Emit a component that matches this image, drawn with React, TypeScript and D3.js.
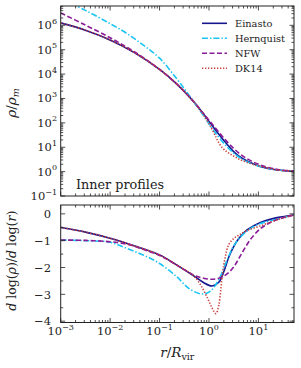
import React from "react";
import * as d3 from "d3";

// radius in units of R_vir, density in units of the mean density, and the
// logarithmic slope for each profile
const einastoR = [0.001, 0.00316, 0.01, 0.0316, 0.1, 0.224, 0.49, 0.776, 1.15, 1.58, 2.0, 2.51, 3.16, 3.98, 5.89, 11.0, 24.0, 52.5];
const einastoRho = [1.26e6, 6.3e5, 2.5e5, 7.4e4, 1.55e4, 3890, 741, 229, 79, 34, 19, 11, 6.6, 4.4, 2.75, 1.62, 1.17, 1.05];
const einastoSlope = [-0.51, -0.68, -0.91, -1.2, -1.53, -1.91, -2.31, -2.56, -2.69, -2.55, -2.15, -1.62, -1.22, -0.93, -0.6, -0.32, -0.14, -0.04];

const hernquistR = [0.001, 0.00316, 0.01, 0.0219, 0.0479, 0.1, 0.224, 0.398, 0.724, 1.07, 1.58, 2.29, 3.16, 4.68, 6.92, 11.0, 24.0, 52.5];
const hernquistRho = [1.26e7, 4.1e6, 1.17e6, 4.6e5, 1.5e5, 4.5e4, 6300, 1320, 240, 74, 25.7, 10.7, 5.75, 3.24, 2.19, 1.58, 1.17, 1.05];
const hernquistSlope = [-0.975, -1.0, -1.06, -1.29, -1.54, -1.85, -2.35, -2.79, -2.99, -2.88, -2.45, -1.75, -1.2, -0.8, -0.55, -0.36, -0.2, -0.04];

const nfwR = [0.001, 0.00316, 0.01, 0.0219, 0.0479, 0.1, 0.224, 0.49, 0.776, 1.15, 1.58, 2.29, 3.16, 4.68, 6.92, 11.0, 17.4, 28.2, 52.5];
const nfwRho = [3.24e6, 1.02e6, 3.1e5, 1.26e5, 4.6e4, 1.55e4, 3890, 741, 240, 91, 41.7, 17.4, 8.9, 4.57, 2.82, 1.86, 1.41, 1.17, 1.05];
const nfwSlope = [-0.975, -0.99, -1.04, -1.13, -1.33, -1.55, -1.91, -2.28, -2.4, -2.44, -2.4, -2.25, -1.98, -1.45, -0.95, -0.55, -0.32, -0.17, -0.04];

const dk14R = [0.001, 0.00316, 0.01, 0.0316, 0.1, 0.224, 0.49, 0.661, 0.912, 1.15, 1.38, 1.58, 1.86, 2.14, 2.51, 3.16, 3.98, 5.89, 11.0, 24.0, 52.5];
const dk14Rho = [1.26e6, 6.3e5, 2.5e5, 7.4e4, 1.55e4, 3890, 741, 339, 126, 55, 26.3, 15.1, 9.55, 7.24, 5.75, 4.37, 3.31, 2.4, 1.66, 1.17, 1.05];
const dk14Slope = [-0.51, -0.68, -0.91, -1.2, -1.53, -1.91, -2.31, -2.62, -3.1, -3.5, -3.72, -3.4, -2.3, -1.6, -1.15, -0.92, -0.8, -0.62, -0.45, -0.22, -0.04];

const series = [
  { name: "Einasto", r: einastoR, rho: einastoRho, slope: einastoSlope, color: "#16168f", dash: "" },
  { name: "Hernquist", r: hernquistR, rho: hernquistRho, slope: hernquistSlope, color: "#1cc4f4", dash: "6,2,1.4,2" },
  { name: "NFW", r: nfwR, rho: nfwRho, slope: nfwSlope, color: "#8a1a96", dash: "5,2.5" },
  { name: "DK14", r: dk14R, rho: dk14Rho, slope: dk14Slope, color: "#c8403c", dash: "1.3,1.7" },
];

const xDecades = [-3, -2, -1, 0, 1];
const rhoDecades = [-1, 0, 1, 2, 3, 4, 5, 6];
const slopeTicks = [0, -1, -2, -3, -4];

const W = 301;
const H = 368;
const left = 60.7;
const right = 294;
const top1 = 6;
const bot1 = 196;
const top2 = 205;
const bot2 = 322.5;
const serif = "DejaVu Serif";
const ink = "#222";

const x = d3.scaleLog().domain([1e-3, 52.5]).range([left, right]);
const yRho = d3.scaleLog().domain([0.1, 6.2e6]).range([bot1, top1]);
const ySlope = d3.scaleLinear().domain([-4.05, 0.33]).range([bot2, top2]);

// minor ticks 2..9 within each decade of a log domain
const logMinors = (lo: number, hi: number) => {
  const out: number[] = [];
  for (let d = Math.floor(Math.log10(lo)); d <= Math.ceil(Math.log10(hi)); d++) {
    for (let k = 2; k <= 9; k++) {
      const v = k * Math.pow(10, d);
      if (v > lo && v < hi) out.push(v);
    }
  }
  return out;
};

const sup = (d: number) => (d < 0 ? "\u2212" + Math.abs(d) : String(d));

const Label = (props: React.SVGProps<SVGTextElement>) => (
  <text fontFamily={serif} fill={ink} {...props} />
);

const Frame = ({ y0, y1, yMajor, yMinor }: { y0: number; y1: number; yMajor: number[]; yMinor: number[] }) => {
  const xMajor = xDecades.map((d) => x(Math.pow(10, d)));
  const xMinor = logMinors(1e-3, 52.5).map((v) => x(v));
  const lines: JSX.Element[] = [];
  const push = (x1: number, y1a: number, x2: number, y2: number, k: string) =>
    lines.push(<line key={k} x1={x1} y1={y1a} x2={x2} y2={y2} />);
  xMajor.forEach((px, i) => {
    push(px, y1, px, y1 - 4.5, "xb" + i);
    push(px, y0, px, y0 + 4.5, "xt" + i);
  });
  xMinor.forEach((px, i) => {
    push(px, y1, px, y1 - 2.5, "xbm" + i);
    push(px, y0, px, y0 + 2.5, "xtm" + i);
  });
  yMajor.forEach((py, i) => {
    push(left, py, left + 4.5, py, "yl" + i);
    push(right, py, right - 4.5, py, "yr" + i);
  });
  yMinor.forEach((py, i) => {
    push(left, py, left + 2.5, py, "ylm" + i);
    push(right, py, right - 2.5, py, "yrm" + i);
  });
  return (
    <g>
      <g stroke={ink} strokeWidth={0.8}>{lines}</g>
      <rect x={left} y={y0} width={right - left} height={y1 - y0} fill="none" stroke={ink} strokeWidth={1} />
    </g>
  );
};

export default function App() {
  const rhoLine = (s: (typeof series)[number]) =>
    d3
      .line<number>()
      .x((_, i) => x(s.r[i]))
      .y((v) => yRho(v))
      .curve(d3.curveCatmullRom.alpha(0.5))(s.rho) || "";
  const slopeLine = (s: (typeof series)[number]) =>
    d3
      .line<number>()
      .x((_, i) => x(s.r[i]))
      .y((v) => ySlope(v))
      .curve(d3.curveCatmullRom.alpha(0.5))(s.slope) || "";

  const rhoMinor = logMinors(0.1, 6.2e6).map((v) => yRho(v));
  const slopeMinor = d3.range(-3.5, 0.5, 1).map((v) => ySlope(v));

  return (
    <svg
      width={W}
      height={H}
      viewBox={`0 0 ${W} ${H}`}
      style={{ position: "absolute", left: 0, top: 0, background: "#fff" }}
    >
      <defs>
        <clipPath id="c1">
          <rect x={left} y={top1} width={right - left} height={bot1 - top1} />
        </clipPath>
        <clipPath id="c2">
          <rect x={left} y={top2} width={right - left} height={bot2 - top2} />
        </clipPath>
      </defs>

      {/* upper panel: density */}
      <g clipPath="url(#c1)" fill="none" strokeWidth={1.6}>
        {series.map((s) => (
          <path key={s.name} d={rhoLine(s)} stroke={s.color} strokeDasharray={s.dash} />
        ))}
      </g>
      <Frame y0={top1} y1={bot1} yMajor={rhoDecades.map((d) => yRho(Math.pow(10, d)))} yMinor={rhoMinor} />
      {rhoDecades.map((d) => (
        <Label key={d} x={57} y={yRho(Math.pow(10, d)) + 4} textAnchor="end" fontSize={11.5}>
          10<tspan dy={-5.5} fontSize={8}>{sup(d)}</tspan>
        </Label>
      ))}
      <Label x={76} y={189} fontSize={12.8}>
        Inner profiles
      </Label>
      <g>
        {series.map((s, i) => (
          <g key={s.name}>
            <line x1={202} x2={227} y1={23.3 + i * 15} y2={23.3 + i * 15} stroke={s.color} strokeWidth={1.6} strokeDasharray={s.dash} />
            <Label x={235} y={27.3 + i * 15} fontSize={9.8}>
              {s.name}
            </Label>
          </g>
        ))}
      </g>
      <Label transform={`translate(16,${(top1 + bot1) / 2 + 2}) rotate(-90)`} textAnchor="middle" fontSize={13.5}>
        <tspan fontStyle="italic">ρ</tspan>/<tspan fontStyle="italic">ρ</tspan>
        <tspan fontStyle="italic" fontSize={9.5} dy={2.5}>m</tspan>
      </Label>

      {/* lower panel: logarithmic slope */}
      <g clipPath="url(#c2)" fill="none" strokeWidth={1.6}>
        {series.map((s) => (
          <path key={s.name} d={slopeLine(s)} stroke={s.color} strokeDasharray={s.dash} />
        ))}
      </g>
      <Frame y0={top2} y1={bot2} yMajor={slopeTicks.map((v) => ySlope(v))} yMinor={slopeMinor} />
      {slopeTicks.map((v) => (
        <Label key={v} x={51} y={ySlope(v) + 4.3} textAnchor="end" fontSize={11.5}>
          {v < 0 ? "\u2212" + Math.abs(v) : "0"}
        </Label>
      ))}
      {xDecades.map((d) => (
        <Label key={d} x={x(Math.pow(10, d))} y={335} textAnchor="middle" fontSize={11.5}>
          10<tspan dy={-5.5} fontSize={8}>{sup(d)}</tspan>
        </Label>
      ))}
      <Label transform={`translate(16,${(top2 + bot2) / 2 - 3}) rotate(-90)`} textAnchor="middle" fontSize={12.5}>
        <tspan fontStyle="italic">d</tspan> log(<tspan fontStyle="italic">ρ</tspan>)/<tspan fontStyle="italic">d</tspan> log(
        <tspan fontStyle="italic">r</tspan>)
      </Label>
      <Label x={(left + right) / 2} y={357} textAnchor="middle" fontSize={13.5}>
        <tspan fontStyle="italic">r</tspan>/<tspan fontStyle="italic">R</tspan>
        <tspan fontSize={9.5} dy={2.5}>vir</tspan>
      </Label>
    </svg>
  );
}
